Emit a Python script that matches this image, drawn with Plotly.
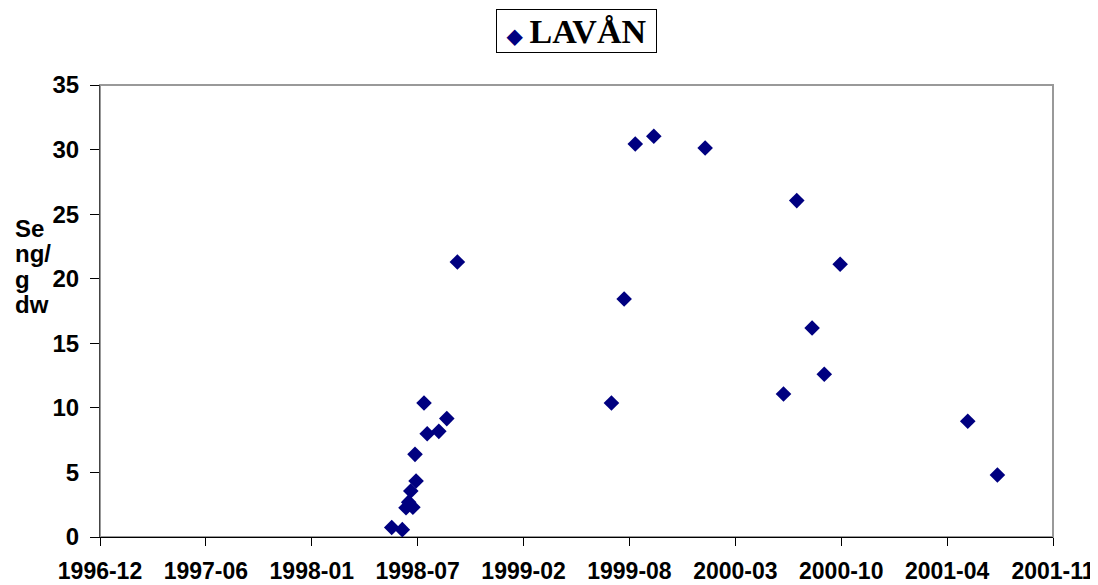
import plotly.graph_objects as go

# sampling dates and Se concentrations (ng/g dw)
dates = [
    "1998-06-05", "1998-06-25", "1998-07-02", "1998-07-07", "1998-07-15",
    "1998-07-11", "1998-07-21", "1998-07-19", "1998-08-05", "1998-08-11",
    "1998-09-02", "1998-09-17", "1998-10-07",
    "1999-07-25", "1999-08-18", "1999-09-08", "1999-10-13", "2000-01-18",
    "2000-06-14", "2000-07-09", "2000-08-07", "2000-08-30", "2000-09-29",
    "2001-05-28", "2001-07-23",
]
se_values = [
    0.73, 0.57, 2.26, 2.7, 2.3,
    3.56, 4.34, 6.4, 10.38, 8.0,
    8.18, 9.17, 21.3,
    10.38, 18.43, 30.43, 31.03, 30.12,
    11.07, 26.05, 16.18, 12.6, 21.12,
    8.96, 4.8,
]
series_name = "LAVÅN"
y_title_lines = ["Se", "ng/", "g", "dw"]

DAY_MS = 86400000

fig = go.Figure(go.Scatter(
    x=dates,
    y=se_values,
    mode="markers",
    name=series_name,
    marker=dict(symbol="diamond", size=12, color="#000080"),
    showlegend=False,
))

# the page body adds an 8px offset, so margins are shifted by 8px
fig.update_layout(
    width=1098,
    height=585,
    autosize=False,
    margin=dict(l=92, r=53, t=77, b=56),
    paper_bgcolor="white",
    plot_bgcolor="white",
    xaxis=dict(
        type="date",
        range=["1996-12-01", "2001-11-05"],
        tick0="1996-12-01",
        dtick=200 * DAY_MS,
        tickformat="%Y-%m",
        ticks="outside",
        ticklen=8,
        tickcolor="black",
        showline=True,
        linecolor="black",
        linewidth=1,
        showgrid=False,
        zeroline=False,
        automargin=False,
        ticklabelstandoff=5,
        tickfont=dict(family="Liberation Sans, Arial", size=23, color="black", weight="bold"),
    ),
    yaxis=dict(
        range=[0, 35],
        dtick=5,
        ticks="outside",
        ticklen=9,
        tickcolor="black",
        showline=True,
        linecolor="#444444",
        linewidth=1,
        showgrid=False,
        zeroline=False,
        automargin=False,
        ticklabelstandoff=6,
        tickfont=dict(family="Liberation Sans, Arial", size=24, color="black", weight="bold"),
    ),
)

# gray plot-area border (top and right sides)
fig.add_shape(type="rect", xref="paper", yref="paper", x0=0, y0=0, x1=1, y1=1,
              line=dict(color="#999999", width=2), layer="below")

# boxed series key at the top
fig.add_annotation(
    text=("<span style='font-size:36px'> </span>"
          "<span style='font-size:20px;color:#000080'>◆</span>"
          "<span style='font-size:30px'> </span>" + series_name +
          "<span style='font-size:36px'> </span>"),
    xref="paper", yref="paper",
    x=0.5, xanchor="center",
    y=(529 - 23.5) / 452, yanchor="middle",
    showarrow=False,
    bordercolor="black", borderwidth=1, borderpad=1,
    font=dict(family="Liberation Serif, Times New Roman", size=34,
              color="black", weight="bold"),
)

# stacked y-axis title
for i, line in enumerate(y_title_lines):
    fig.add_annotation(
        text=line, xref="paper", yref="paper",
        x=-0.091, xanchor="left",
        y=(529 - 220 - i * 25.5) / 452, yanchor="middle",
        showarrow=False,
        font=dict(family="Liberation Sans, Arial", size=24, color="black", weight="bold"),
    )

fig.write_html("out.html")
